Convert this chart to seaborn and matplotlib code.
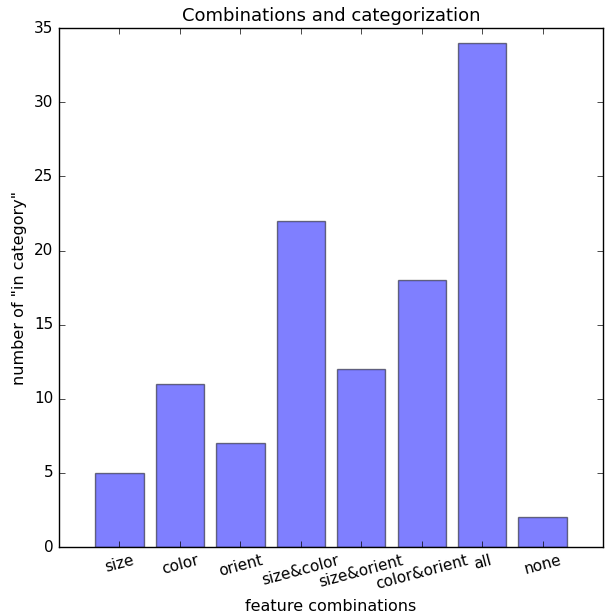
import matplotlib
matplotlib.use("Agg")
import matplotlib.pyplot as plt
import seaborn as sns
import pandas as pd

# data
categories = ['size', 'color', 'orient', 'size&color', 'size&orient',
              'color&orient', 'all', 'none']
counts = [5, 11, 7, 22, 12, 18, 34, 2]

df = pd.DataFrame({'combo': categories, 'count': counts})

plt.style.use('classic')
fig = plt.figure(figsize=(6.08, 6.14), dpi=100, facecolor='white')
ax = fig.add_axes([0.097, 0.109, 0.895, 0.845])

sns.barplot(data=df, x='combo', y='count', order=categories,
            color='blue', saturation=1, alpha=0.5,
            edgecolor='black', linewidth=1, width=0.8, ax=ax)

ax.set_xlim(-1, len(categories))
ax.set_ylim(0, 35)
ax.set_xticks(range(len(categories)))
ax.set_xticklabels(categories, rotation=15)
ax.set_title('Combinations and categorization', fontsize=13)
ax.set_xlabel('feature combinations', fontsize=11.5)
ax.set_ylabel('number of "in category"', fontsize=11.5)
ax.tick_params(labelsize=11)

fig.savefig('out.png', dpi=100, facecolor='white')
